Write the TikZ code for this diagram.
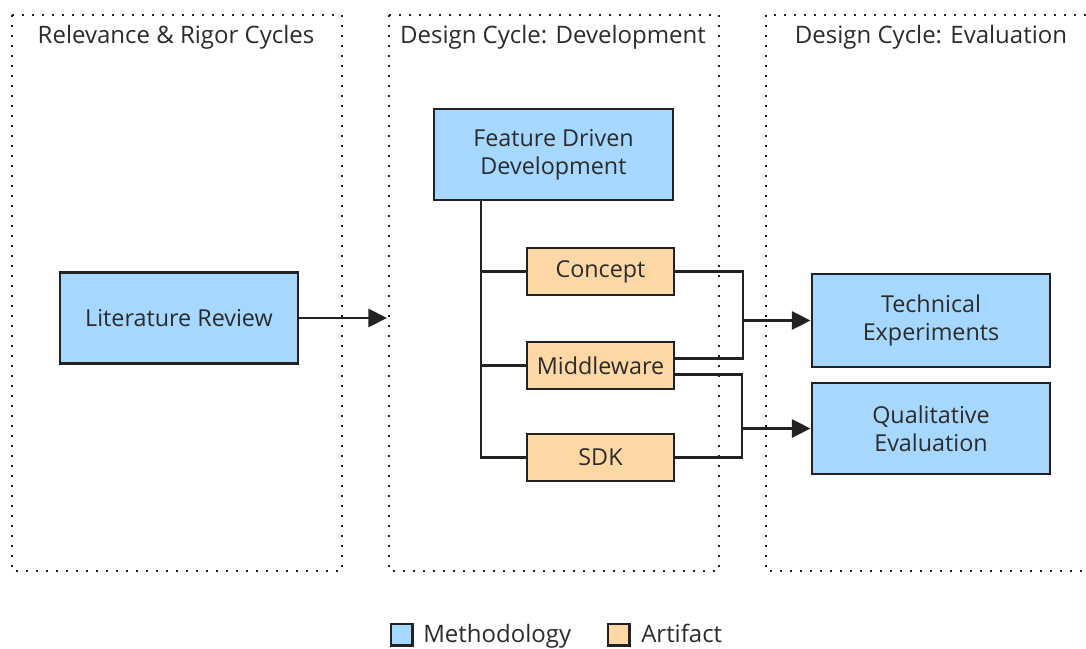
\documentclass[tikz,border=0pt]{standalone}
\usepackage{fontspec}
\setmainfont{Open Sans}
\usetikzlibrary{arrows.meta}
\definecolor{methfill}{HTML}{A6D8FF}
\definecolor{artfill}{HTML}{FFD8A6}
\definecolor{edge}{HTML}{222222}
\definecolor{txt}{HTML}{2B2B2B}
\begin{document}
\begin{tikzpicture}[x=0.75pt,y=-0.75pt,
  every node/.style={font=\fontsize{17.5}{21}\selectfont, text=txt, inner sep=0pt},
  group/.style={draw=edge, line width=1.4pt, dash pattern=on 1.4pt off 6.1pt},
  grouptitle/.style={anchor=center, font=\fontsize{18}{21}\selectfont},
  method/.style={draw=edge, fill=methfill, line width=2.2pt, align=center},
  artifact/.style={draw=edge, fill=artfill, line width=2.2pt, align=center,
    minimum width=110.25pt, minimum height=35.25pt},
  conn/.style={draw=edge, line width=2.2pt},
  flow/.style={conn, -{Triangle[length=14pt,width=13.5pt]}},
  swatch/.style={draw=edge, line width=2pt, minimum width=16pt, minimum height=16pt},
  legendtext/.style={anchor=base west, font=\fontsize{18}{21}\selectfont}]

\useasboundingbox (0,0) rectangle (1086,649);
\clip (0,0) rectangle (1086,649);

% cycle groups
\draw[group] (12,15) rectangle (342,571);
\draw[group] (389,15) rectangle (719,571);
\draw[group] (766,15) rectangle (1100,571);
\node[grouptitle] (t1) at (176,37) {Relevance \& Rigor Cycles};
\node[grouptitle] (t2) at (553,37) {Design Cycle: Development};
\node[grouptitle] (t3) at (931,37) {Design Cycle: Evaluation};

% methodology and artifact boxes
\node[method, minimum width=178.5pt, minimum height=68.25pt] (lit) at (179,318) {Literature Review};
\node[method, minimum width=179.25pt, minimum height=68.25pt] (fdd) at (553.5,154.5) {Feature Driven\\Development};
\node[artifact] (concept) at (600.5,271.5) {Concept};
\node[artifact] (mw) at (600.5,365.5) {Middleware};
\node[artifact] (sdk) at (600.5,457.5) {SDK};
\node[method, minimum width=178.5pt, minimum height=69.75pt] (tech) at (931,320.5) {Technical\\Experiments};
\node[method, minimum width=178.5pt, minimum height=68.25pt] (qual) at (931,428.5) {Qualitative\\Evaluation};

% literature review feeds the development cycle
\coordinate (devin) at (387,318);
\draw[flow] (lit.east) -- (devin);

% feature tree
\draw[conn] ([xshift=-54.4pt]fdd.south) |- (sdk.west);
\draw[conn] (concept.west) -- ++(-46,0);
\draw[conn] (mw.west) -- ++(-46,0);

% artifacts to evaluation
\coordinate (j1) at (743,320.5);
\coordinate (j2) at (742,428.5);
\draw[conn] (concept.east) -| (j1);
\draw[conn] ([yshift=5.6pt]mw.east) -| (j1);
\draw[flow] (j1) -- (tech.west);
\draw[conn] ([yshift=-7pt]mw.east) -| (j2);
\draw[conn] (sdk.east) -| (j2);
\draw[flow] (j2) -- (qual.west);

% legend
\node[swatch, fill=methfill] (lm) at (401.5,634.5) {};
\node[legendtext] (lmt) at (423,642) {Methodology};
\node[swatch, fill=artfill] (la) at (618.5,634.5) {};
\node[legendtext] (lat) at (641,642) {Artifact};
\end{tikzpicture}
\end{document}
